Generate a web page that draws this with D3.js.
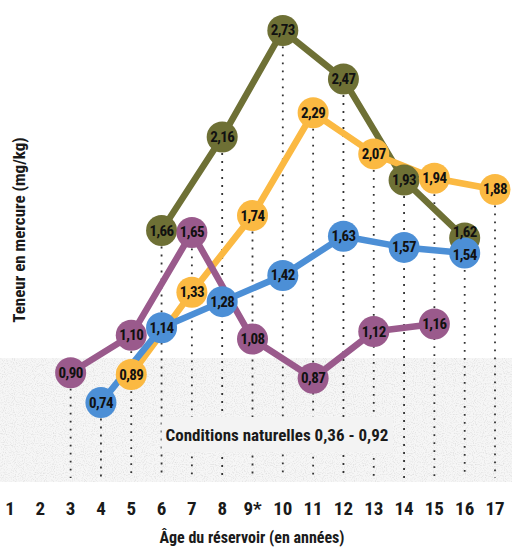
<!DOCTYPE html>
<html><head><meta charset="utf-8">
<script src="https://cdn.jsdelivr.net/npm/d3@7"></script>
<style>
html,body{margin:0;padding:0;background:#fff;}
svg{display:block;}
text{font-family:"Liberation Sans Narrow","Roboto Condensed","Open Sans",sans-serif;font-weight:bold;}
</style></head>
<body>
<script>
const ages = [1,2,3,4,5,6,7,8,9,10,11,12,13,14,15,16,17];
const tickLabels = ["1","2","3","4","5","6","7","8","9*","10","11","12","13","14","15","16","17"];
const oliveAges = [6,8,10,12,14,16];
const oliveValues = [1.66,2.16,2.73,2.47,1.93,1.62];
const yellowAges = [5,7,9,11,13,15,17];
const yellowValues = [0.89,1.33,1.74,2.29,2.07,1.94,1.88];
const blueAges = [4,6,8,10,12,14,16];
const blueValues = [0.74,1.14,1.28,1.42,1.63,1.57,1.54];
const purpleAges = [3,5,7,9,11,13,15];
const purpleValues = [0.90,1.10,1.65,1.08,0.87,1.12,1.16];
const naturalLow = 0.36, naturalHigh = 0.92;
const naturalLabel = "Conditions naturelles 0,36 - 0,92";
const xTitle = "Âge du réservoir (en années)";
const yTitle = "Teneur en mercure (mg/kg)";

const colors = {olive:"#6e7035", yellow:"#fbb942", blue:"#4c8fd6", purple:"#9a5a8c"};
const series = [
  {name:"olive", ages:oliveAges, values:oliveValues},
  {name:"yellow", ages:yellowAges, values:yellowValues},
  {name:"purple", ages:purpleAges, values:purpleValues},
  {name:"blue", ages:blueAges, values:blueValues}
];

const W=512,H=550;
const svg=d3.select("body").append("svg").attr("width",W).attr("height",H);
const x=d3.scaleLinear().domain([1,17]).range([10,495]);
const y=d3.scaleLinear().domain([0,3]).range([541,-20]);
const baseY=478;

// natural conditions zone
const defs=svg.append("defs");
const f=defs.append("filter").attr("id","noise").attr("x",0).attr("y",0).attr("width","100%").attr("height","100%");
f.append("feTurbulence").attr("type","fractalNoise").attr("baseFrequency",0.9).attr("numOctaves",1).attr("seed",3).attr("result","n");
f.append("feColorMatrix").attr("in","n").attr("type","matrix")
 .attr("values","0 0 0 0 0.6  0 0 0 0 0.6  0 0 0 0 0.6  0 0 0 -2.6 1.35").attr("result","c");
f.append("feComposite").attr("in","c").attr("in2","SourceGraphic").attr("operator","in");
const zoneTop=358;
svg.append("rect").attr("x",0).attr("y",zoneTop).attr("width",W).attr("height",baseY+4-zoneTop).attr("fill","#f6f6f6");
svg.append("rect").attr("x",0).attr("y",zoneTop).attr("width",W).attr("height",baseY+4-zoneTop).attr("fill","#fff").attr("opacity",0.6).attr("filter","url(#noise)");

// dotted verticals from the highest point
const topByAge={};
series.forEach(s=>s.ages.forEach((a,i)=>{topByAge[a]=Math.max(topByAge[a]||0,s.values[i]);}));
svg.append("g").selectAll("line").data(Object.keys(topByAge).map(Number)).join("line")
 .attr("x1",d=>x(d)).attr("x2",d=>x(d)).attr("y1",d=>y(topByAge[d])).attr("y2",baseY)
 .attr("stroke","#333").attr("stroke-width",1.8).attr("stroke-dasharray","1.8,6.2");

// label for natural zone
const nl=svg.append("text").attr("x",277).attr("y",441).attr("text-anchor","middle")
 .attr("font-size",17).attr("fill","#1a1a1a").text(naturalLabel);
const bb=nl.node().getBBox();
svg.insert("rect","text").attr("x",bb.x-4).attr("y",417).attr("width",bb.width+8).attr("height",35).attr("fill","#f3f3f3");

// lines
const line=d3.line().x(d=>x(d[0])).y(d=>y(d[1]));
series.forEach(s=>{
  svg.append("path").datum(s.ages.map((a,i)=>[a,s.values[i]]))
   .attr("d",line).attr("fill","none").attr("stroke",colors[s.name]).attr("stroke-width",6.5).attr("stroke-linejoin","round");
});
// points
const pts=[];
series.forEach(s=>s.ages.forEach((a,i)=>pts.push({name:s.name,age:a,v:s.values[i]})));
pts.forEach(p=>{
  p.cx=x(p.age); p.cy=y(p.v); p.dy=5;
  const other=pts.find(q=>q!==p && q.age===p.age && Math.abs(y(q.v)-p.cy)<24);
  if(other){ p.dy = (p.cy<y(other.v)) ? -1 : 7; }
});
svg.append("g").selectAll("circle").data(pts).join("circle")
 .attr("cx",d=>d.cx).attr("cy",d=>d.cy).attr("r",15.5).attr("fill",d=>colors[d.name]);
svg.append("g").selectAll("text").data(pts).join("text")
 .attr("x",d=>d.cx).attr("y",d=>d.cy+d.dy).attr("text-anchor","middle")
 .attr("font-size",15).attr("fill","#111").attr("letter-spacing",-0.6)
 .text(d=>d3.format(".2f")(d.v).replace(".",","));

// x axis tick labels
svg.append("g").selectAll("text").data(ages).join("text")
 .attr("x",d=>x(d)).attr("y",515).attr("text-anchor","middle").attr("font-size",19).attr("fill","#1a1a1a")
 .text((d,i)=>tickLabels[i]);
svg.append("text").attr("x",252).attr("y",543).attr("text-anchor","middle").attr("font-size",16).attr("fill","#1a1a1a").text(xTitle);
svg.append("text").attr("transform","translate(25,230) rotate(-90)").attr("text-anchor","middle").attr("font-size",17).attr("fill","#1a1a1a").text(yTitle);
</script>
</body></html>
